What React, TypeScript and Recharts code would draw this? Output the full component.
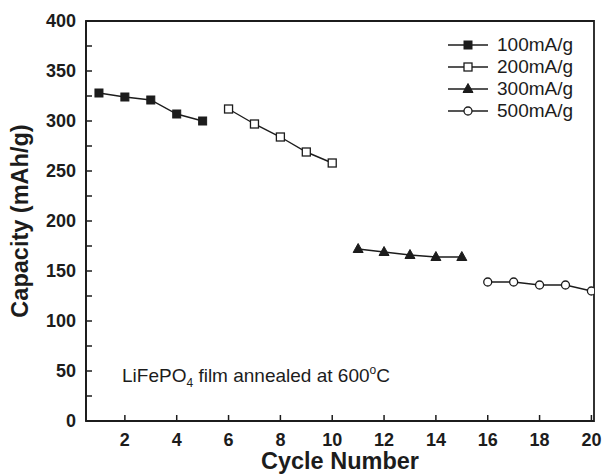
import {
  Line,
  LineChart,
  ReferenceArea,
  XAxis,
  YAxis,
} from 'recharts';

const cycles100 = [1, 2, 3, 4, 5];
const capacity100 = [328, 324, 321, 307, 300];
const cycles200 = [6, 7, 8, 9, 10];
const capacity200 = [312, 297, 284, 269, 258];
const cycles300 = [11, 12, 13, 14, 15];
const capacity300 = [172, 169, 166, 164, 164];
const cycles500 = [16, 17, 18, 19, 20];
const capacity500 = [139, 139, 136, 136, 130];

const xTicks = [2, 4, 6, 8, 10, 12, 14, 16, 18, 20];
const yTicks = [0, 25, 50, 75, 100, 125, 150, 175, 200, 225, 250, 275, 300, 325, 350, 375, 400];

const INK = '#1c1c1c';
const FONT = '"Liberation Sans", Arial, sans-serif';

type Marker = 'filledSquare' | 'openSquare' | 'filledTriangle' | 'openCircle';

function toRows(cycles: number[], values: number[]) {
  return cycles.map((c, i) => ({ cycle: c, capacity: values[i] }));
}

const series: { name: string; marker: Marker; rows: { cycle: number; capacity: number }[] }[] = [
  { name: '100mA/g', marker: 'filledSquare', rows: toRows(cycles100, capacity100) },
  { name: '200mA/g', marker: 'openSquare', rows: toRows(cycles200, capacity200) },
  { name: '300mA/g', marker: 'filledTriangle', rows: toRows(cycles300, capacity300) },
  { name: '500mA/g', marker: 'openCircle', rows: toRows(cycles500, capacity500) },
];

function MarkerShape({ marker, cx, cy }: { marker: Marker; cx: number; cy: number }) {
  switch (marker) {
    case 'filledSquare':
      return <rect x={cx - 4} y={cy - 4} width={8} height={8} fill={INK} stroke={INK} strokeWidth={1} />;
    case 'openSquare':
      return <rect x={cx - 4} y={cy - 4} width={8} height={8} fill="#fff" stroke={INK} strokeWidth={1.3} />;
    case 'filledTriangle':
      return (
        <polygon
          points={`${cx},${cy - 5.5} ${cx - 5},${cy + 3.5} ${cx + 5},${cy + 3.5}`}
          fill={INK}
          stroke={INK}
          strokeWidth={1}
        />
      );
    default:
      return <circle cx={cx} cy={cy} r={4} fill="#fff" stroke={INK} strokeWidth={1.3} />;
  }
}

// legend sits inside the plot, so it is drawn as an overlay and takes no room from the axes
function ChartLegend() {
  return (
    <div
      style={{
        position: 'absolute',
        left: 448,
        top: 34,
        fontFamily: FONT,
        fontSize: 19,
        color: INK,
        lineHeight: '22px',
      }}
    >
      {series.map((s) => (
        <div key={s.name} style={{ display: 'flex', alignItems: 'center', height: 22 }}>
          <svg width={48} height={22}>
            <line x1={0} y1={11} x2={40} y2={11} stroke={INK} strokeWidth={1.3} />
            <MarkerShape marker={s.marker} cx={20} cy={11} />
          </svg>
          <span style={{ marginLeft: 1 }}>{s.name}</span>
        </div>
      ))}
    </div>
  );
}

export default function App() {
  return (
    <div style={{ position: 'fixed', left: 0, top: 0, width: 605, height: 474, background: '#fff' }}>
      <LineChart
        width={605}
        height={474}
        margin={{ top: 21, right: 11, left: 0, bottom: 0 }}
        style={{ fontFamily: FONT }}
      >
        <XAxis
          type="number"
          dataKey="cycle"
          domain={[0.5, 20.1]}
          allowDataOverflow
          ticks={xTicks}
          height={53}
          stroke={INK}
          axisLine={{ stroke: INK, strokeWidth: 1.8 }}
          tickLine={{ stroke: INK, strokeWidth: 1.5 }}
          tickSize={-6}
          tickMargin={18}
          tick={{ fill: INK, fontSize: 18, fontWeight: 'bold' }}
          label={{
            value: 'Cycle Number',
            position: 'insideBottom',
            offset: 5,
            fill: INK,
            fontSize: 23.5,
            fontWeight: 'bold',
          }}
        />
        <YAxis
          type="number"
          domain={[0, 400]}
          allowDataOverflow
          ticks={yTicks}
          width={86}
          interval={0}
          stroke={INK}
          axisLine={{ stroke: INK, strokeWidth: 1.8 }}
          tickLine={{ stroke: INK, strokeWidth: 1.5 }}
          tickSize={-6}
          tickMargin={16}
          tickFormatter={(v: number) => (v % 50 === 0 ? String(v) : '')}
          tick={{ fill: INK, fontSize: 18, fontWeight: 'bold' }}
          label={{
            value: 'Capacity (mAh/g)',
            angle: -90,
            position: 'insideLeft',
            offset: 20,
            fill: INK,
            fontSize: 23.5,
            fontWeight: 'bold',
            style: { textAnchor: 'middle' },
          }}
        />
        <ReferenceArea
          x1={0.5}
          x2={20.1}
          y1={0}
          y2={400}
          fill="none"
          fillOpacity={0}
          stroke={INK}
          strokeWidth={1.8}
          ifOverflow="visible"
        />
        {series.map((s) => (
          <Line
            key={s.name}
            name={s.name}
            data={s.rows}
            dataKey="capacity"
            stroke={INK}
            strokeWidth={1.4}
            isAnimationActive={false}
            dot={(p: any) => (
              <MarkerShape key={`${s.name}-${p.index}`} marker={s.marker} cx={p.cx} cy={p.cy} />
            )}
            activeDot={false}
          />
        ))}
      </LineChart>
      <ChartLegend />
      <svg
        width={605}
        height={474}
        style={{ position: 'absolute', left: 0, top: 0, pointerEvents: 'none' }}
      >
        <text x={122} y={382} fontFamily={FONT} fontSize={19} fill={INK}>
          LiFePO
          <tspan fontSize={12} dy={5}>4</tspan>
          <tspan dy={-5}> film annealed at 600</tspan>
          <tspan fontSize={12} dy={-8}>o</tspan>
          <tspan dy={8}>C</tspan>
        </text>
      </svg>
    </div>
  );
}
